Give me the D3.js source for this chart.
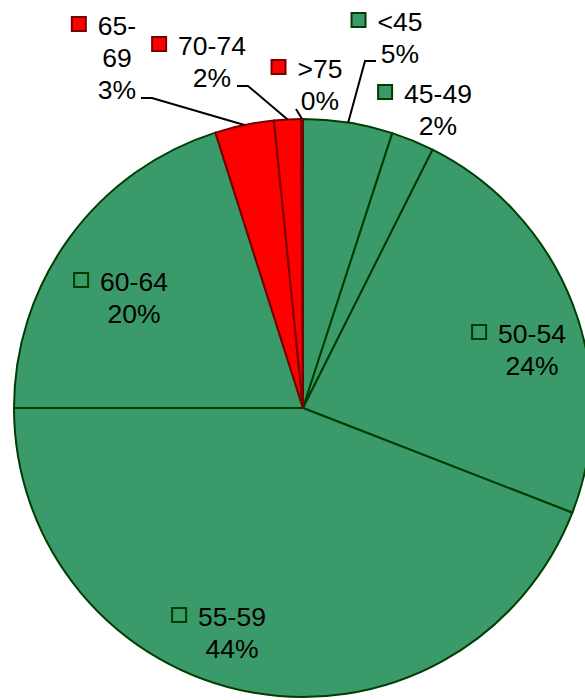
<!DOCTYPE html>
<html>
<head>
<meta charset="utf-8">
<script src="https://cdn.jsdelivr.net/npm/d3@7"></script>
<style>
    html, body { margin: 0; padding: 0; background: #fff; }
    svg { display: block; font-family: "Liberation Sans", Arial, sans-serif; }
</style>
</head>
<body>
<script>
// age bands, clockwise from 12 o'clock
const categories = ['<45', '45-49', '50-54', '55-59', '60-64', '65-69', '70-74', '>75'];
const shares = [5.0, 2.4, 23.5, 44.1, 20.1, 3.3, 1.5, 0.1];
const shareLabels = ['5%', '2%', '24%', '44%', '20%', '3%', '2%', '0%'];

const width = 585;
const height = 700;
const cx = 303;
const cy = 408;
const radius = 289;

// where each label block sits (text centre, first baseline) and its leader elbow
const labelLayout = [
    { x: 400, y: 31, leader: [[365, 61], [376, 61]] },
    { x: 438, y: 103 },
    { x: 532, y: 343 },
    { x: 232, y: 626 },
    { x: 134, y: 291 },
    { x: 117, y: 35, split: true, leader: [[152, 98], [141, 98]] },
    { x: 212, y: 55, leader: [[248, 86], [237, 86]] },
    { x: 320, y: 78, leader: [[296, 109]] }
];

const fill = d3.scaleOrdinal()
    .domain(categories)
    .range(['#3a9a69', '#3a9a69', '#3a9a69', '#3a9a69', '#3a9a69', '#ff0000', '#ff0000', '#ff0000']);

const edge = d3.scaleOrdinal()
    .domain(categories)
    .range(['#003d00', '#003d00', '#003d00', '#003d00', '#003d00', '#7a0000', '#7a0000', '#7a0000']);

const data = categories.map((c, i) => ({ category: c, share: shares[i], label: shareLabels[i], layout: labelLayout[i] }));

const svg = d3.select('body').append('svg')
    .attr('width', width)
    .attr('height', height);

const pie = d3.pie()
    .sort(null)
    .value(d => d.share);

const arc = d3.arc()
    .innerRadius(0)
    .outerRadius(radius);

const arcs = pie(data);

const g = svg.append('g')
    .attr('transform', `translate(${cx},${cy})`);

g.selectAll('path')
    .data(arcs)
    .join('path')
        .attr('d', arc)
        .attr('fill', d => fill(d.data.category))
        .attr('stroke', d => edge(d.data.category))
        .attr('stroke-width', 2)
        .attr('stroke-linejoin', 'round');

// leader lines from the rim at mid angle
const rimPoint = d => {
    const a = (d.startAngle + d.endAngle) / 2;
    return [cx + radius * Math.sin(a), cy - radius * Math.cos(a)];
};

svg.append('g')
    .selectAll('polyline')
    .data(arcs.filter(d => d.data.layout.leader))
    .join('polyline')
        .attr('points', d => [rimPoint(d), ...d.data.layout.leader].map(p => p.join(',')).join(' '))
        .attr('fill', 'none')
        .attr('stroke', '#000')
        .attr('stroke-width', 2);

const fontSize = 26.5;
const lineHeight = 32;

const labels = svg.append('g')
    .selectAll('g')
    .data(arcs)
    .join('g');

labels.each(function (d) {
    const lay = d.data.layout;
    const lines = lay.split
        ? [d.data.category.slice(0, 3), d.data.category.slice(3), d.data.label]
        : [d.data.category, d.data.label];
    const sel = d3.select(this);

    const texts = sel.selectAll('text')
        .data(lines)
        .join('text')
            .attr('x', lay.x)
            .attr('y', (t, i) => lay.y + i * lineHeight)
            .attr('text-anchor', 'middle')
            .attr('font-size', fontSize)
            .attr('fill', '#000')
            .text(t => t);

    const firstWidth = texts.node().getComputedTextLength();
    sel.insert('rect', 'text')
        .attr('x', lay.x - firstWidth / 2 - 26)
        .attr('y', lay.y - 18)
        .attr('width', 14)
        .attr('height', 14)
        .attr('fill', fill(d.data.category))
        .attr('stroke', edge(d.data.category))
        .attr('stroke-width', 2);
});
</script>
</body>
</html>
